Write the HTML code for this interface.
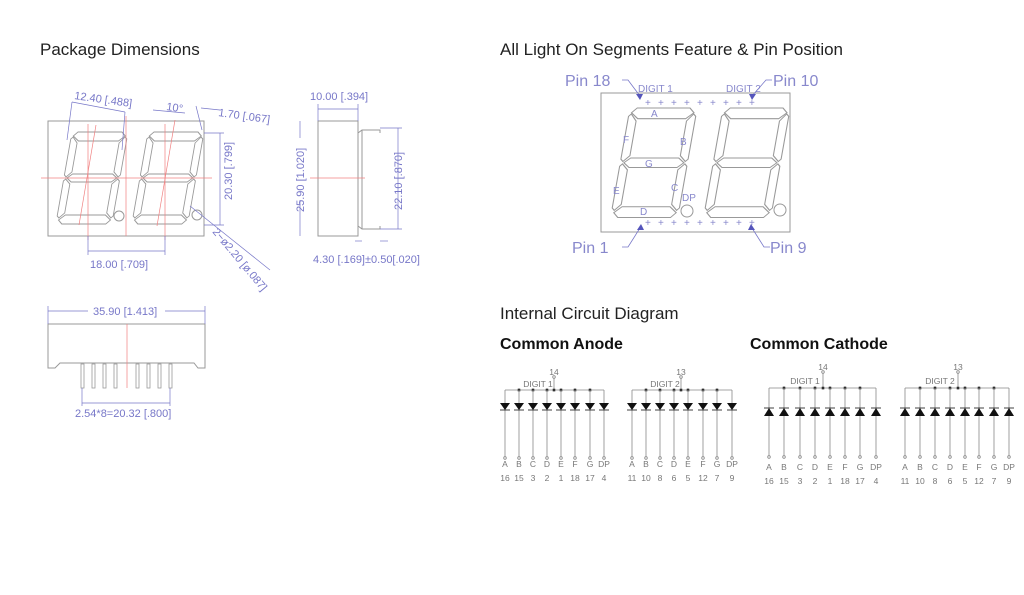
<!DOCTYPE html>
<html><head><meta charset="utf-8"><style>
html,body{margin:0;padding:0;background:#fff;}
svg{display:block;}
.h{font-family:"Liberation Sans",sans-serif;font-size:17px;fill:#222;}
.b{font-family:"Liberation Sans",sans-serif;font-size:16px;font-weight:bold;fill:#111;}
.d{font-family:"Liberation Sans",sans-serif;font-size:11px;fill:#7777c8;}
.p{font-family:"Liberation Sans",sans-serif;font-size:16px;fill:#8888cc;}
.c{font-family:"Liberation Sans",sans-serif;font-size:8.5px;fill:#777;}
</style></head><body>
<svg width="1024" height="595" viewBox="0 0 1024 595" xmlns="http://www.w3.org/2000/svg">
<defs>
<g id="dig" fill="none" stroke="#999" stroke-width="0.9">
<path d="M6,0 L50,0 L54,4 L48,9 L8,9 L2,4 Z"/>
<path d="M8,42 L48,42 L53,46 L48,50 L8,50 L3,46 Z"/>
<path d="M8,83 L48,83 L54,88 L50,92 L6,92 L2,88 Z"/>
<path d="M0,7 L2,5 L7,11 L7,40 L2,45 L0,43 Z"/>
<path d="M56,7 L54,5 L49,11 L49,40 L54,45 L56,43 Z"/>
<path d="M0,49 L2,47 L7,52 L7,81 L2,86 L0,84 Z"/>
<path d="M56,49 L54,47 L49,52 L49,81 L54,86 L56,84 Z"/>
</g>
<g id="an" stroke="#888" stroke-width="0.8" fill="#111">
<line x1="0" y1="0" x2="0" y2="68"/>
<polygon points="-5,13 5,13 0,20" stroke="none"/>
<line x1="-5" y1="20" x2="5" y2="20" stroke="#111"/>
<circle cx="0" cy="68" r="1.3" fill="#fff"/>
</g>
<g id="ca" stroke="#888" stroke-width="0.8" fill="#111">
<line x1="0" y1="0" x2="0" y2="69"/>
<polygon points="-5,28 5,28 0,20" stroke="none"/>
<line x1="-5" y1="20" x2="5" y2="20" stroke="#111"/>
<circle cx="0" cy="69" r="1.3" fill="#fff"/>
</g>
</defs>

<text class="h" x="40" y="55">Package Dimensions</text>
<text class="h" x="500" y="55">All Light On Segments Feature &amp; Pin Position</text>
<text class="h" x="500" y="319">Internal Circuit Diagram</text>
<text class="b" x="500" y="349">Common Anode</text>
<text class="b" x="750" y="349">Common Cathode</text>

<!-- front view -->
<rect x="48" y="121" width="156" height="115" fill="none" stroke="#999"/>
<use href="#dig" transform="translate(72,132) skewX(-10)"/>
<use href="#dig" transform="translate(148,132) skewX(-10)"/>
<circle cx="119" cy="216" r="5" fill="none" stroke="#999"/>
<circle cx="197" cy="215" r="5" fill="none" stroke="#999"/>
<g stroke="#f08080" stroke-width="0.7">
<line x1="41" y1="178" x2="212" y2="178"/>
<line x1="88" y1="124" x2="88" y2="240"/>
<line x1="126" y1="116" x2="126" y2="236"/>
<line x1="165" y1="124" x2="165" y2="240"/>
<line x1="96" y1="125" x2="79" y2="225"/>
<line x1="175" y1="120" x2="157" y2="226"/>
</g>
<g stroke="#7777c8" stroke-width="0.7" fill="none">
<line x1="88" y1="236" x2="88" y2="255"/><line x1="165" y1="236" x2="165" y2="255"/>
<line x1="88" y1="251" x2="165" y2="251"/>
<line x1="72" y1="102" x2="125" y2="112"/>
<line x1="72" y1="102" x2="67" y2="140"/><line x1="125" y1="112" x2="122" y2="150"/>
<line x1="153" y1="110" x2="185" y2="113"/>
<line x1="196" y1="106" x2="202" y2="130"/>
<line x1="201" y1="108" x2="220" y2="110"/>
<line x1="204" y1="133" x2="224" y2="133"/><line x1="204" y1="225" x2="224" y2="225"/>
<line x1="220" y1="133" x2="220" y2="225"/>
<line x1="190" y1="206" x2="270" y2="270"/>
</g>
<text class="d" x="74" y="99" transform="rotate(8 74 99)">12.40 [.488]</text>
<text class="d" x="166" y="110" transform="rotate(8 166 110)">10°</text>
<text class="d" x="218" y="116" transform="rotate(8 218 116)">1.70 [.067]</text>
<text class="d" x="232" y="200" transform="rotate(-90 232 200)">20.30 [.799]</text>
<text class="d" x="90" y="268">18.00 [.709]</text>
<text class="d" x="212" y="232" transform="rotate(50 212 232)">2−ø2.20 [ø.087]</text>

<!-- side view -->
<rect x="318" y="121" width="40" height="115" fill="none" stroke="#999"/>
<path d="M358,133 L362,130 L380,130 L380,133 M358,226 L362,229 L380,229 L380,226 M362,130 L362,229" fill="none" stroke="#999"/>
<line x1="310" y1="178" x2="365" y2="178" stroke="#f08080" stroke-width="0.7"/>
<g stroke="#7777c8" stroke-width="0.7" fill="none">
<line x1="318" y1="109" x2="358" y2="109"/><line x1="318" y1="104" x2="318" y2="121"/><line x1="358" y1="104" x2="358" y2="121"/>
<line x1="300" y1="121" x2="300" y2="138"/><line x1="300" y1="200" x2="300" y2="236"/>
<line x1="380" y1="128" x2="402" y2="128"/><line x1="380" y1="229" x2="402" y2="229"/>
<line x1="398" y1="128" x2="398" y2="229"/>
<line x1="355" y1="241" x2="362" y2="241"/><line x1="380" y1="241" x2="388" y2="241"/>
</g>
<text class="d" x="310" y="100">10.00 [.394]</text>
<text class="d" x="304" y="212" transform="rotate(-90 304 212)">25.90 [1.020]</text>
<text class="d" x="402" y="210" transform="rotate(-90 402 210)">22.10 [.870]</text>
<text class="d" x="313" y="263">4.30 [.169]±0.50[.020]</text>

<!-- bottom view -->
<path d="M48,324 L205,324 L205,368 L198,368 L194,363 L60,363 L55,368 L48,368 Z" fill="none" stroke="#999"/>
<g fill="none" stroke="#999" stroke-width="0.8">
<rect x="81" y="364" width="3" height="24"/><rect x="92" y="364" width="3" height="24"/>
<rect x="103" y="364" width="3" height="24"/><rect x="114" y="364" width="3" height="24"/>
<rect x="136" y="364" width="3" height="24"/><rect x="147" y="364" width="3" height="24"/>
<rect x="158" y="364" width="3" height="24"/><rect x="169" y="364" width="3" height="24"/>
</g>
<line x1="127" y1="324" x2="127" y2="388" stroke="#f08080" stroke-width="0.7"/>
<g stroke="#7777c8" stroke-width="0.7">
<line x1="48" y1="311" x2="88" y2="311"/><line x1="165" y1="311" x2="205" y2="311"/>
<line x1="48" y1="306" x2="48" y2="324"/><line x1="205" y1="306" x2="205" y2="324"/>
<line x1="82" y1="388" x2="82" y2="406"/><line x1="170" y1="388" x2="170" y2="406"/>
<line x1="82" y1="403" x2="170" y2="403"/>
</g>
<text class="d" x="93" y="315">35.90 [1.413]</text>
<text class="d" x="75" y="417">2.54*8=20.32 [.800]</text>

<!-- right display -->
<rect x="601" y="93" width="189" height="139" fill="none" stroke="#999"/>
<use href="#dig" transform="translate(630,108) scale(1.2,1.19) skewX(-10)"/>
<use href="#dig" transform="translate(723,108) scale(1.2,1.19) skewX(-10)"/>
<circle cx="687" cy="211" r="6" fill="none" stroke="#999"/>
<circle cx="780" cy="210" r="6" fill="none" stroke="#999"/>
<g class="c" style="fill:#8888cc;font-size:10px">
<text x="645" y="106">+</text><text x="658" y="106">+</text><text x="671" y="106">+</text><text x="684" y="106">+</text><text x="697" y="106">+</text><text x="710" y="106">+</text><text x="723" y="106">+</text><text x="736" y="106">+</text><text x="749" y="106">+</text>
<text x="645" y="226">+</text><text x="658" y="226">+</text><text x="671" y="226">+</text><text x="684" y="226">+</text><text x="697" y="226">+</text><text x="710" y="226">+</text><text x="723" y="226">+</text><text x="736" y="226">+</text><text x="749" y="226">+</text>
<text x="638" y="92">DIGIT 1</text><text x="726" y="92">DIGIT 2</text>
<text x="651" y="117">A</text><text x="680" y="145">B</text><text x="623" y="143">F</text><text x="645" y="167">G</text><text x="613" y="194">E</text><text x="671" y="191">C</text><text x="640" y="215">D</text><text x="682" y="201">DP</text>
</g>
<g stroke="#7777c8" fill="none" stroke-width="0.8">
<path d="M622,80 L628,80 L640,96"/><path d="M772,80 L766,80 L752,96"/>
<path d="M622,247 L628,247 L640,228"/><path d="M770,247 L764,247 L752,228"/>
</g>
<g fill="#5555bb">
<polygon points="640,100 636,94 643,94"/><polygon points="752,100 749,94 756,94"/>
<polygon points="641,224 637,230 644,230"/><polygon points="751,224 748,230 755,230"/>
</g>
<text class="p" x="565" y="86">Pin 18</text>
<text class="p" x="773" y="86">Pin 10</text>
<text class="p" x="572" y="253">Pin 1</text>
<text class="p" x="770" y="253">Pin 9</text>

<!-- common anode group 1 -->
<g stroke="#888" stroke-width="0.8" fill="#111">
<line x1="505" y1="390" x2="604" y2="390"/><line x1="554" y1="390" x2="554" y2="378"/>
<circle cx="554" cy="377" r="1.3" fill="#fff"/>
<circle cx="519" cy="390" r="1.4"/><circle cx="533" cy="390" r="1.4"/><circle cx="547" cy="390" r="1.4"/><circle cx="554" cy="390" r="1.4"/><circle cx="561" cy="390" r="1.4"/><circle cx="575" cy="390" r="1.4"/><circle cx="590" cy="390" r="1.4"/>
<line x1="632" y1="390" x2="732" y2="390"/><line x1="681" y1="390" x2="681" y2="378"/>
<circle cx="681" cy="377" r="1.3" fill="#fff"/>
<circle cx="646" cy="390" r="1.4"/><circle cx="660" cy="390" r="1.4"/><circle cx="674" cy="390" r="1.4"/><circle cx="681" cy="390" r="1.4"/><circle cx="688" cy="390" r="1.4"/><circle cx="703" cy="390" r="1.4"/><circle cx="717" cy="390" r="1.4"/>
<line x1="769" y1="388" x2="876" y2="388"/><line x1="823" y1="388" x2="823" y2="373"/>
<circle cx="823" cy="372" r="1.3" fill="#fff"/>
<circle cx="784" cy="388" r="1.4"/><circle cx="800" cy="388" r="1.4"/><circle cx="815" cy="388" r="1.4"/><circle cx="823" cy="388" r="1.4"/><circle cx="830" cy="388" r="1.4"/><circle cx="845" cy="388" r="1.4"/><circle cx="860" cy="388" r="1.4"/>
<line x1="905" y1="388" x2="1009" y2="388"/><line x1="958" y1="388" x2="958" y2="373"/>
<circle cx="958" cy="372" r="1.3" fill="#fff"/>
<circle cx="920" cy="388" r="1.4"/><circle cx="935" cy="388" r="1.4"/><circle cx="950" cy="388" r="1.4"/><circle cx="958" cy="388" r="1.4"/><circle cx="965" cy="388" r="1.4"/><circle cx="979" cy="388" r="1.4"/><circle cx="994" cy="388" r="1.4"/>
</g>
<use href="#an" x="505" y="390"/><use href="#an" x="519" y="390"/><use href="#an" x="533" y="390"/><use href="#an" x="547" y="390"/><use href="#an" x="561" y="390"/><use href="#an" x="575" y="390"/><use href="#an" x="590" y="390"/><use href="#an" x="604" y="390"/>
<use href="#an" x="632" y="390"/><use href="#an" x="646" y="390"/><use href="#an" x="660" y="390"/><use href="#an" x="674" y="390"/><use href="#an" x="688" y="390"/><use href="#an" x="703" y="390"/><use href="#an" x="717" y="390"/><use href="#an" x="732" y="390"/>
<use href="#ca" x="769" y="388"/><use href="#ca" x="784" y="388"/><use href="#ca" x="800" y="388"/><use href="#ca" x="815" y="388"/><use href="#ca" x="830" y="388"/><use href="#ca" x="845" y="388"/><use href="#ca" x="860" y="388"/><use href="#ca" x="876" y="388"/>
<use href="#ca" x="905" y="388"/><use href="#ca" x="920" y="388"/><use href="#ca" x="935" y="388"/><use href="#ca" x="950" y="388"/><use href="#ca" x="965" y="388"/><use href="#ca" x="979" y="388"/><use href="#ca" x="994" y="388"/><use href="#ca" x="1009" y="388"/>

<g class="c" text-anchor="middle">
<text x="554" y="375">14</text><text x="538" y="387">DIGIT 1</text>
<text x="681" y="375">13</text><text x="665" y="387">DIGIT 2</text>
<text x="823" y="370">14</text><text x="805" y="384">DIGIT 1</text>
<text x="958" y="370">13</text><text x="940" y="384">DIGIT 2</text>
<text x="505" y="467">A</text><text x="519" y="467">B</text><text x="533" y="467">C</text><text x="547" y="467">D</text><text x="561" y="467">E</text><text x="575" y="467">F</text><text x="590" y="467">G</text><text x="604" y="467">DP</text>
<text x="505" y="481">16</text><text x="519" y="481">15</text><text x="533" y="481">3</text><text x="547" y="481">2</text><text x="561" y="481">1</text><text x="575" y="481">18</text><text x="590" y="481">17</text><text x="604" y="481">4</text>
<text x="632" y="467">A</text><text x="646" y="467">B</text><text x="660" y="467">C</text><text x="674" y="467">D</text><text x="688" y="467">E</text><text x="703" y="467">F</text><text x="717" y="467">G</text><text x="732" y="467">DP</text>
<text x="632" y="481">11</text><text x="646" y="481">10</text><text x="660" y="481">8</text><text x="674" y="481">6</text><text x="688" y="481">5</text><text x="703" y="481">12</text><text x="717" y="481">7</text><text x="732" y="481">9</text>
<text x="769" y="470">A</text><text x="784" y="470">B</text><text x="800" y="470">C</text><text x="815" y="470">D</text><text x="830" y="470">E</text><text x="845" y="470">F</text><text x="860" y="470">G</text><text x="876" y="470">DP</text>
<text x="769" y="484">16</text><text x="784" y="484">15</text><text x="800" y="484">3</text><text x="815" y="484">2</text><text x="830" y="484">1</text><text x="845" y="484">18</text><text x="860" y="484">17</text><text x="876" y="484">4</text>
<text x="905" y="470">A</text><text x="920" y="470">B</text><text x="935" y="470">C</text><text x="950" y="470">D</text><text x="965" y="470">E</text><text x="979" y="470">F</text><text x="994" y="470">G</text><text x="1009" y="470">DP</text>
<text x="905" y="484">11</text><text x="920" y="484">10</text><text x="935" y="484">8</text><text x="950" y="484">6</text><text x="965" y="484">5</text><text x="979" y="484">12</text><text x="994" y="484">7</text><text x="1009" y="484">9</text>
</g>
</svg>
</body></html>
